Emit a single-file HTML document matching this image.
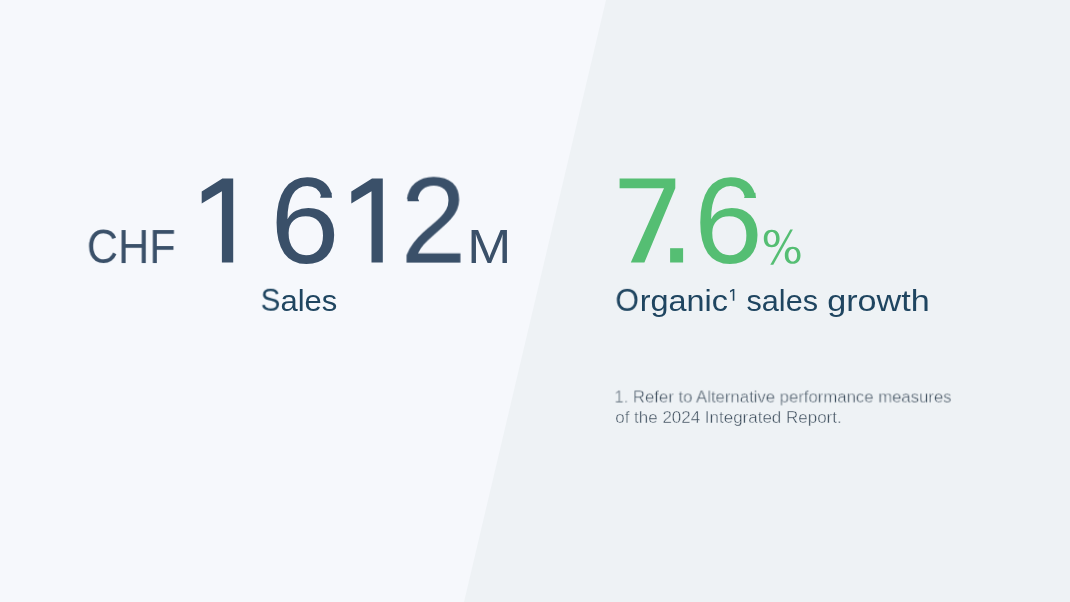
<!DOCTYPE html>
<html><head><meta charset="utf-8"><title>Key figures</title>
<style>
html,body{margin:0;padding:0}
body{width:1070px;height:602px;overflow:hidden;position:relative;background:#f6f8fc;font-family:"Liberation Sans",sans-serif}
svg{position:absolute;left:0;top:0}
.f{-webkit-text-stroke:0.4px #eef2f5;paint-order:fill stroke}
  .t{position:absolute;left:0;top:0;white-space:nowrap;line-height:1;transform-origin:0 0;will-change:transform}
</style></head><body>
<svg width="1070" height="602" viewBox="0 0 1070 602" role="img" aria-label="CHF 1 612 M Sales. 7.6% Organic sales growth">
<title>CHF 1 612 M Sales &#8212; 7.6% Organic&#185; sales growth</title>
<polygon fill="#eef2f5" points="606,0 1070,0 1070,602 464,602"/>
<polygon fill="#3a5069" points="222.4,178.6 233.2,178.6 233.2,262.5 221.9,262.5 221.9,191.3 201.7,203.6 201.7,191.6"/>
<polygon fill="#3a5069" points="372.0,178.6 382.8,178.6 382.8,262.5 371.5,262.5 371.5,191.3 351.3,203.6 351.3,191.6"/>
<polygon fill="#55be73" points="619.6,178.6 675.3,178.6 675.3,188.3 644.4,262.5 630.8,262.5 664,188.3 619.6,188.3"/>
<rect fill="#55be73" x="670.1" y="248.2" width="13" height="14.3"/>
<path fill="#55be73" fill-rule="evenodd" d="M763.80,238.55C763.80,232.95 766.64,229.80 771.70,229.80C776.76,229.80 779.60,232.95 779.60,238.55C779.60,244.15 776.76,247.30 771.70,247.30C766.64,247.30 763.80,244.15 763.80,238.55z M767.40,238.50C767.40,234.63 769.14,232.05 771.75,232.05C774.36,232.05 776.10,234.63 776.10,238.50C776.10,242.37 774.36,244.95 771.75,244.95C769.14,244.95 767.40,242.37 767.40,238.50z M784.80,255.25C784.80,249.78 787.63,246.70 792.65,246.70C797.67,246.70 800.50,249.78 800.50,255.25C800.50,260.72 797.67,263.80 792.65,263.80C787.63,263.80 784.80,260.72 784.80,255.25z M788.40,255.20C788.40,251.42 790.14,248.90 792.75,248.90C795.36,248.90 797.10,251.42 797.10,255.20C797.10,258.98 795.36,261.50 792.75,261.50C790.14,261.50 788.40,258.98 788.40,255.20z"/><polygon fill="#55be73" points="790.2,229.4 792.9,229.4 773.3,264.8 770.3,264.8"/>
<polygon fill="#1f4560" points="732.84,289.00 734.35,289.00 734.35,300.70 732.78,300.70 732.78,290.77 730.00,292.49 730.00,290.81"/>
</svg>
<svg aria-hidden="true" width="1070" height="602" viewBox="0 0 1070 602"><polygon fill="#3a5069" points="320.1,197.8 321.0,195.0 331.4,192.6 332.0,197.8"/><polygon fill="#55be73" points="744.1,197.9 745.0,195.1 755.4,192.7 756.0,197.9"/><polygon fill="#3a5069" points="407.5,197.6 417.8,198.2 419.2,201.2 407.6,201.2"/></svg>
<div class="t" style="font-size:47.46px;color:#3a5069;transform:translate(86.84px,223.02px) scaleX(0.9113)">CHF</div>
<div class="t" style="font-size:123.10px;color:#3a5069;transform:translate(270.36px,159.25px) scaleX(1.0137)">6</div>
<div class="t" style="font-size:122.29px;color:#3a5069;transform:translate(400.59px,159.57px) scaleX(0.9669)">2</div>
<div class="t" style="font-size:47.25px;color:#3a5069;transform:translate(467.37px,222.98px) scaleX(1.1183)">M</div>
<div class="t" style="font-size:32.11px;color:#1f4560;transform:translate(260.67px,283.74px) scaleX(0.9207)">S</div>
<div class="t" style="font-size:29.50px;color:#1f4560;transform:translate(280.41px,285.53px) scaleX(1.0508)">ales</div>
<div class="t" style="font-size:123.10px;color:#55be73;transform:translate(694.00px,159.25px) scaleX(1.0066)">6</div>
<div class="t" style="font-size:32.11px;color:#1f4560;transform:translate(615.44px,283.84px) scaleX(0.9410)">O</div>
<div class="t" style="font-size:29.50px;color:#1f4560;transform:translate(639.69px,285.53px) scaleX(1.0982)">rganic</div>
<div class="t" style="font-size:29.50px;color:#1f4560;transform:translate(746.48px,285.53px) scaleX(1.0393)">sales</div>
<div class="t" style="font-size:29.50px;color:#1f4560;transform:translate(827.23px,285.53px) scaleX(1.1569)">growth</div>
<div class="t f" style="font-size:16.90px;color:#3d4d5c;transform:translate(614.35px,389.47px) scaleX(0.9894)">1. Refer to Alternative performance measures</div>
<div class="t f" style="font-size:16.90px;color:#3d4d5c;transform:translate(615.22px,410.07px) scaleX(1.0047)">of the 2024 Integrated Report.</div>
</body></html>
